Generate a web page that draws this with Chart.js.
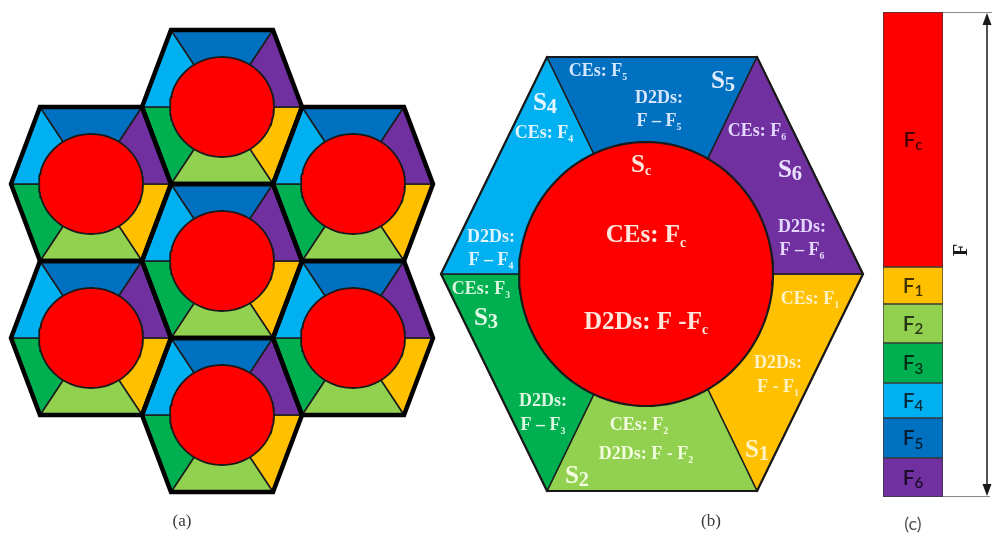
<!DOCTYPE html>
<html>
<head>
<meta charset="utf-8">
<script src="https://cdn.jsdelivr.net/npm/chart.js@4.4.1/dist/chart.umd.min.js"></script>
<style>
  html, body { margin: 0; padding: 0; background: #fff; overflow: hidden; }
  #wrap { position: relative; width: 992px; height: 538px; }
  #cells { position: absolute; left: 0; top: 0; }
  #band { position: absolute; left: 883px; top: 0; }
</style>
</head>
<body>
<div id="wrap">
  <canvas id="cells" width="992" height="538"></canvas>
  <canvas id="band" width="109" height="538"></canvas>
</div>
<script>
// Edge sectors of a cell, clockwise from the right-hand vertex
const sectorNames = ['S1', 'S2', 'S3', 'S4', 'S5', 'S6'];
const sectorColors = ['#ffc000', '#92d050', '#00b050', '#00b0f0', '#0070c0', '#7030a0'];
const centreColor = '#ff0000';

// Frequency sub-bands: centre band first, then one per edge sector
const bandNames = ['F_c', 'F_1', 'F_2', 'F_3', 'F_4', 'F_5', 'F_6'];
const bandShares = [255, 37, 39, 40, 35, 40, 39];
const bandColors = [centreColor].concat(sectorColors);

// Seven-cell cluster, offsets in columns / half-rows from the middle cell
const clusterCols = [0, -1, 1, 0, -1, 1, 0];
const clusterRows = [-2, -1, -1, 0, 1, 1, 2];

// Drawing geometry (pixels of the plotting plane)
const GEO = {
  cluster: { cx: 222, cy: 261, dx: 131, dy: 77, R: 80, a: 51, h: 77, rx: 52, ry: 50 },
  cell: { cx: 652, cy: 274, R: 211, a: 105, h: 217, ccx: 646, ccy: 274, rx: 127, ry: 132 }
};

const SERIF = '"Liberation Serif", "DejaVu Serif", serif';
const SANS = 'Lato, "Liberation Sans", sans-serif';

// Text placed on the enlarged cell
const cellLabels = [
  { x: 598, y: 70,  t: 'CEs: F_5', s: 18, c: '#d6e6ff' },
  { x: 723, y: 79,  t: 'S_5', s: 25, c: '#e2ecff' },
  { x: 659, y: 97,  t: 'D2Ds:', s: 18, c: '#d6e6ff' },
  { x: 659, y: 120, t: 'F \u2013 F_5', s: 18, c: '#d6e6ff' },
  { x: 545, y: 101, t: 'S_4', s: 25, c: '#e6f6ff' },
  { x: 544, y: 132, t: 'CEs: F_4', s: 18, c: '#e0f4ff' },
  { x: 757, y: 130, t: 'CEs: F_6', s: 18, c: '#e4d8ff' },
  { x: 790, y: 168, t: 'S_6', s: 25, c: '#ece2ff' },
  { x: 641, y: 163, t: 'S_c', s: 25, c: '#ffe6dc' },
  { x: 802, y: 226, t: 'D2Ds:', s: 18, c: '#e4d8ff' },
  { x: 802, y: 249, t: 'F \u2013 F_6', s: 18, c: '#e4d8ff' },
  { x: 491, y: 236, t: 'D2Ds:', s: 18, c: '#e0f4ff' },
  { x: 491, y: 259, t: 'F \u2013 F_4', s: 18, c: '#e0f4ff' },
  { x: 646, y: 233, t: 'CEs: F_c', s: 25, c: '#ffe6dc' },
  { x: 646, y: 320, t: 'D2Ds: F -F_c', s: 25, c: '#ffe6dc' },
  { x: 481, y: 288, t: 'CEs: F_3', s: 18, c: '#d8f6e0' },
  { x: 486, y: 316, t: 'S_3', s: 25, c: '#e2fae8' },
  { x: 810, y: 298, t: 'CEs: F_1', s: 18, c: '#fff2c4' },
  { x: 778, y: 362, t: 'D2Ds:', s: 18, c: '#fff2c4' },
  { x: 778, y: 386, t: 'F - F_1', s: 18, c: '#fff2c4' },
  { x: 543, y: 400, t: 'D2Ds:', s: 18, c: '#dcf6e2' },
  { x: 543, y: 424, t: 'F \u2013 F_3', s: 18, c: '#dcf6e2' },
  { x: 639, y: 424, t: 'CEs: F_2', s: 18, c: '#f2fde0' },
  { x: 646, y: 453, t: 'D2Ds: F - F_2', s: 18, c: '#f2fde0' },
  { x: 577, y: 474, t: 'S_2', s: 25, c: '#f2fde0' },
  { x: 757, y: 448, t: 'S_1', s: 25, c: '#fff2c4' }
];

// Draw text where "_x" puts the single character x as a subscript
function drawRich(ctx, text, x, y, size, family, weight, color, subScale, subDrop) {
  const parts = [];
  for (let i = 0; i < text.length; i++) {
    if (text[i] === '_' && i + 1 < text.length) {
      parts.push({ t: text[i + 1], sub: true });
      i++;
    } else if (parts.length && !parts[parts.length - 1].sub) {
      parts[parts.length - 1].t += text[i];
    } else {
      parts.push({ t: text[i], sub: false });
    }
  }
  let w = 0;
  parts.forEach(p => {
    p.size = p.sub ? size * subScale : size;
    ctx.font = weight + ' ' + p.size + 'px ' + family;
    p.w = ctx.measureText(p.t).width;
    w += p.w;
  });
  let cx = x - w / 2;
  const base = y + size * 0.34;
  ctx.save();
  ctx.fillStyle = color;
  ctx.textAlign = 'left';
  ctx.textBaseline = 'alphabetic';
  parts.forEach(p => {
    ctx.font = weight + ' ' + p.size + 'px ' + family;
    ctx.fillText(p.t, cx, p.sub ? base + size * subDrop : base);
    cx += p.w;
  });
  ctx.restore();
}

// ---------- cell layouts as closed line datasets ----------
const fills = [], outlines = [], rings = [];

function shape(points, fillColor, lineColor, lineWidth) {
  return {
    data: points.concat([points[0], points[1]]),
    areaColor: fillColor,
    borderColor: lineColor,
    borderWidth: lineWidth,
    showLine: true,
    fill: false,
    tension: 0,
    pointRadius: 0,
    pointHoverRadius: 0,
    borderJoinStyle: 'miter',
    clip: false
  };
}

function hexVertices(g, cx, cy) {
  return [
    { x: cx + g.R, y: cy },
    { x: cx + g.a, y: cy + g.h },
    { x: cx - g.a, y: cy + g.h },
    { x: cx - g.R, y: cy },
    { x: cx - g.a, y: cy - g.h },
    { x: cx + g.a, y: cy - g.h }
  ];
}

function ellipse(cx, cy, rx, ry) {
  const pts = [];
  for (let i = 0; i < 120; i++) {
    const t = i / 120 * 2 * Math.PI;
    pts.push({ x: cx + rx * Math.cos(t), y: cy + ry * Math.sin(t) });
  }
  return pts;
}

function addCell(g, cx, cy, ccx, ccy, style) {
  const v = hexVertices(g, cx, cy);
  sectorNames.forEach((name, i) => {
    fills.push(shape([{ x: cx, y: cy }, v[i], v[(i + 1) % 6]], sectorColors[i], style.divider, style.dividerWidth));
  });
  outlines.push(shape(v, null, style.edge, style.edgeWidth));
  rings.push(shape(ellipse(ccx, ccy, g.rx, g.ry), centreColor, style.ring, style.ringWidth));
}

const cg = GEO.cluster;
clusterCols.forEach((col, i) => {
  const cx = cg.cx + col * cg.dx;
  const cy = cg.cy + clusterRows[i] * cg.dy;
  addCell(cg, cx, cy, cx, cy, { divider: '#1c1c1c', dividerWidth: 1.5, edge: '#000', edgeWidth: 4.5, ring: '#1a1a1a', ringWidth: 1.8 });
});
const bg = GEO.cell;
addCell(bg, bg.cx, bg.cy, bg.ccx, bg.ccy, { divider: '#1e1e1e', dividerWidth: 1.5, edge: '#1a1a1a', edgeWidth: 2.2, ring: '#1a1a1a', ringWidth: 2.2 });

const datasets = fills.concat(outlines, rings);
// later entries are painted on top
datasets.forEach((d, i) => { d.order = -i; });

// Fill each closed outline using the element positions the scales produced
const polygonFill = {
  id: 'polygonFill',
  beforeDatasetDraw(chart, args) {
    const ds = chart.data.datasets[args.index];
    if (!ds.areaColor) return;
    const pts = args.meta.data;
    const ctx = chart.ctx;
    ctx.save();
    ctx.beginPath();
    pts.forEach((p, i) => (i ? ctx.lineTo(p.x, p.y) : ctx.moveTo(p.x, p.y)));
    ctx.closePath();
    ctx.fillStyle = ds.areaColor;
    ctx.fill();
    ctx.restore();
  }
};

const cellText = {
  id: 'cellText',
  afterDatasetsDraw(chart) {
    const ctx = chart.ctx;
    const sx = chart.scales.x, sy = chart.scales.y;
    cellLabels.forEach(l => {
      const big = l.s > 20;
      drawRich(ctx, l.t, sx.getPixelForValue(l.x), sy.getPixelForValue(l.y), l.s, SERIF, 'bold', l.c,
        big && l.t.indexOf('S_') === 0 && l.t !== 'S_c' ? 0.82 : 0.55, big && l.t.indexOf('S_') === 0 ? 0.12 : 0.22);
    });
    ctx.save();
    ctx.fillStyle = '#3a3a3a';
    ctx.font = '17px ' + SERIF;
    ctx.textAlign = 'center';
    ctx.textBaseline = 'middle';
    ctx.fillText('(a)', sx.getPixelForValue(182), sy.getPixelForValue(522));
    ctx.fillText('(b)', sx.getPixelForValue(711), sy.getPixelForValue(522));
    ctx.restore();
  }
};

new Chart(document.getElementById('cells'), {
  type: 'scatter',
  data: { datasets: datasets },
  options: {
    responsive: false,
    animation: false,
    devicePixelRatio: 1,
    events: [],
    layout: { padding: 0 },
    plugins: { legend: { display: false }, tooltip: { enabled: false } },
    scales: {
      x: { type: 'linear', min: 0, max: 992, display: false },
      y: { type: 'linear', min: 0, max: 538, reverse: true, display: false }
    }
  },
  plugins: [polygonFill, cellText]
});

// ---------- stacked spectrum bar ----------
const total = bandShares.reduce((s, v) => s + v, 0);
const bandSets = [];
for (let i = bandNames.length - 1; i >= 0; i--) {
  bandSets.push({
    label: bandNames[i],
    data: [bandShares[i]],
    backgroundColor: bandColors[i],
    borderColor: '#3a3a3a',
    borderWidth: 1,
    borderSkipped: false,
    barPercentage: 1,
    categoryPercentage: 1
  });
}

const bandLabels = {
  id: 'bandLabels',
  afterDatasetsDraw(chart) {
    const ctx = chart.ctx;
    chart.data.datasets.forEach((ds, i) => {
      const el = chart.getDatasetMeta(i).data[0];
      const cy = (el.y + el.base) / 2;
      drawRich(ctx, ds.label, el.x, cy, 21, SANS, '600', 'rgba(0,0,0,0.74)', 0.72, 0.16);
    });
    const ys = chart.scales.y;
    const top = ys.getPixelForValue(total);
    const bot = ys.getPixelForValue(0);
    const left = chart.chartArea.right;
    const ax = 104;
    ctx.save();
    // extension lines at both ends of the band
    ctx.strokeStyle = '#8a8a8a';
    ctx.lineWidth = 1.2;
    ctx.beginPath();
    ctx.moveTo(left, top + 0.5); ctx.lineTo(chart.width, top + 0.5);
    ctx.moveTo(left, bot - 0.5); ctx.lineTo(chart.width - 2, bot - 0.5);
    ctx.stroke();
    // double-headed dimension arrow
    ctx.strokeStyle = '#1a1a1a';
    ctx.fillStyle = '#1a1a1a';
    ctx.lineWidth = 1.5;
    ctx.beginPath();
    ctx.moveTo(ax, top + 8); ctx.lineTo(ax, bot - 8);
    ctx.stroke();
    ctx.beginPath();
    ctx.moveTo(ax, top + 1); ctx.lineTo(ax - 4.5, top + 13); ctx.lineTo(ax + 4.5, top + 13); ctx.closePath();
    ctx.fill();
    ctx.beginPath();
    ctx.moveTo(ax, bot - 1); ctx.lineTo(ax - 4.5, bot - 13); ctx.lineTo(ax + 4.5, bot - 13); ctx.closePath();
    ctx.fill();
    // total bandwidth label
    ctx.translate(79, 250);
    ctx.rotate(-Math.PI / 2);
    ctx.font = 'bold 20px ' + SERIF;
    ctx.textAlign = 'center';
    ctx.textBaseline = 'middle';
    ctx.fillText('F', 0, 0);
    ctx.restore();
    ctx.save();
    ctx.fillStyle = '#505050';
    ctx.font = '18px ' + SANS;
    ctx.textAlign = 'center';
    ctx.textBaseline = 'middle';
    ctx.fillText('(c)', (chart.chartArea.left + chart.chartArea.right) / 2, 524);
    ctx.restore();
  }
};

new Chart(document.getElementById('band'), {
  type: 'bar',
  data: { labels: ['F'], datasets: bandSets },
  options: {
    responsive: false,
    animation: false,
    devicePixelRatio: 1,
    events: [],
    layout: { padding: { left: 0, right: 49, top: 12, bottom: 41 } },
    plugins: { legend: { display: false }, tooltip: { enabled: false } },
    scales: {
      x: { stacked: true, display: false },
      y: { stacked: true, display: false, min: 0, max: total }
    }
  },
  plugins: [bandLabels]
});
</script>
</body>
</html>
